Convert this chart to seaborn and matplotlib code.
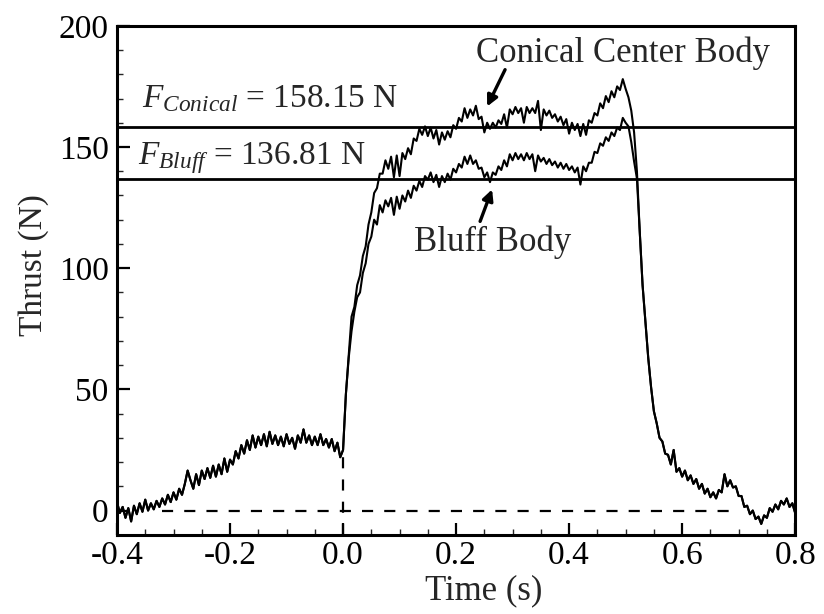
import numpy as np
import pandas as pd
import matplotlib
matplotlib.use("Agg")
import matplotlib.pyplot as plt
import seaborn as sns
from matplotlib.ticker import MultipleLocator, FormatStrFormatter

# ---------------- data ----------------
sample_step = 0.005

# shared pre-ignition trace, t = -0.400 ... 0.000 s
pre_thrust = [3.5, -1.0, 1.5, -3.0, 1.0, -4.5, 2.0, -1.5, 3.0, -0.5,
              4.5, 0.0, 3.0, 0.5, 4.0, 1.5, 5.0, 2.5, 6.5, 3.5,
              7.5, 4.5, 9.0, 6.5, 11.0, 16.5, 12.5, 9.0, 15.0, 10.5,
              16.5, 13.0, 17.5, 13.5, 18.5, 14.0, 19.0, 15.0, 21.5, 16.0,
              21.0, 19.0, 24.5, 21.5, 27.0, 23.5, 29.0, 25.0, 31.0, 26.0,
              30.5, 27.0, 31.5, 26.5, 32.5, 27.5, 31.0, 27.0, 30.5, 26.5,
              31.5, 27.5, 30.0, 25.5, 31.0, 28.0, 33.5, 28.0, 31.0, 27.0,
              30.5, 27.0, 31.5, 27.0, 29.5, 26.0, 29.5, 24.5, 28.0, 22.0,
              25.0]

# burn phase, t = 0.005 ... 0.550 s
conical_burn = [48, 64, 80, 84, 93, 97, 105, 109, 118, 123,
                131, 133, 139, 139, 144.5, 141, 146, 137.5, 146.5, 138,
                147.5, 145, 149.5, 147, 153.5, 152.5, 157.5, 155, 158.5, 154.5,
                158, 153.5, 157, 151, 156, 153, 156.5, 154, 159, 157.5,
                162, 160.5, 166, 162, 165.5, 163, 167, 161.5, 162.5, 156,
                160, 157.5, 160, 158, 161, 159.5, 163.5, 158, 165.5, 163.5,
                166.5, 164, 166, 160, 166.5, 164, 166, 164, 169, 157,
                165.5, 163, 165, 162, 163.5, 160.5, 162.5, 159, 161.5, 155.5,
                160, 157, 159.5, 154.5, 159.5, 155, 161, 160, 164, 163,
                168, 166, 171, 168.5, 173, 170.5, 175, 173.5, 178, 174,
                170.5, 165, 156, 140, 115, 93, 78, 63, 51, 41]

bluff_burn = [48, 63, 74, 82, 88, 90, 98, 102, 110, 113,
              120, 118, 126, 123, 128, 125.5, 129, 122, 129.5, 124.5,
              130, 127.5, 132, 129, 134, 132, 136, 133.5, 138, 136.5,
              139.5, 135.5, 138.5, 133.5, 138, 135.5, 139, 136.5, 141, 139.5,
              143, 141.5, 146, 143, 146.5, 143, 144.5, 141, 141.5, 137.5,
              139.5, 135.5, 139.5, 138.5, 142, 140.5, 144.5, 142, 147, 144.5,
              147.5, 145, 147, 144.5, 147.5, 145, 147, 140, 146.5, 144,
              145.5, 143, 145, 142.5, 144, 141.5, 143.5, 141, 143, 140.5,
              142, 139.5, 141.5, 134.5, 142, 140, 143.5, 143.5, 148, 147.5,
              151.5, 150.5, 154, 152.5, 156, 154.5, 158, 157, 162, 160,
              158.5, 152, 144, 137, 115, 93, 78, 63, 51, 41]

# shared tail-off trace, t = 0.555 ... 0.800 s
tail_thrust = [36, 30, 28.5, 23.5, 23, 19, 25, 16, 17.5, 14,
               16.5, 12.5, 14.5, 11, 13, 9, 11, 7, 9, 5.5,
               7.5, 5, 8.5, 7.5, 15, 10, 12.5, 9.5, 10, 6,
               6, 1.5, 2, -1.5, 0, -3.5, -2.5, -5.5, -2, -3,
               1, -0.5, 2.5, 0.5, 4, 2.5, 5, 1.5, 3, -1]

mean_conical = 158.15
mean_bluff = 136.81
ignition_time = 0.0
zero_ref_span = [-0.32, 0.69]

x_ticks = [-0.4, -0.2, 0.0, 0.2, 0.4, 0.6, 0.8]
y_ticks = [0, 50, 100, 150, 200]

# ---------------- build long table ----------------
t_pre = np.round(-0.4 + sample_step * np.arange(len(pre_thrust)), 3)
t_burn = np.round(sample_step * (1 + np.arange(len(conical_burn))), 3)
t_tail = np.round(t_burn[-1] + sample_step * (1 + np.arange(len(tail_thrust))), 3)

frames = []
for name, burn in [("Conical Center Body", conical_burn), ("Bluff Body", bluff_burn)]:
    t = np.concatenate([t_pre, t_burn, t_tail])
    y = np.concatenate([pre_thrust, burn, tail_thrust])
    frames.append(pd.DataFrame({"Time": t, "Thrust": y, "Body": name}))
df = pd.concat(frames, ignore_index=True)

# ---------------- style ----------------
sns.set_style("ticks")
plt.rcParams["font.family"] = ["Liberation Serif", "DejaVu Serif"]
plt.rcParams["mathtext.fontset"] = "custom"
plt.rcParams["mathtext.rm"] = "Liberation Serif"
plt.rcParams["mathtext.it"] = "Liberation Serif:italic"
plt.rcParams["axes.unicode_minus"] = False

fig = plt.figure(figsize=(8.24, 6.14), dpi=100)
ax = fig.add_axes([0.142, 0.129, 0.823, 0.829])

sns.lineplot(data=df, x="Time", y="Thrust", hue="Body",
             palette={"Conical Center Body": "black", "Bluff Body": "black"},
             estimator=None, sort=False, lw=1.5, legend=False, ax=ax)

ax.axhline(mean_conical, color="black", lw=2.0)
ax.axhline(mean_bluff, color="black", lw=2.0)
ax.plot(zero_ref_span, [0, 0], color="black", lw=1.6, ls=(0, (5, 5)))
ax.plot([ignition_time, ignition_time], [-10, 25], color="black", lw=1.6, ls=(0, (5, 5)))

ax.set_xlim(-0.4, 0.8)
ax.set_ylim(-10, 200)
ax.set_xticks(x_ticks)
ax.set_yticks(y_ticks)
ax.xaxis.set_major_formatter(FormatStrFormatter("%.1f"))
ax.yaxis.set_major_formatter(FormatStrFormatter("%d"))
ax.xaxis.set_minor_locator(MultipleLocator(0.05))
ax.yaxis.set_minor_locator(MultipleLocator(10))
ax.tick_params(which="major", direction="in", length=9, width=1.6,
               labelsize=24, pad=6, top=False, right=False, colors="black")
ax.tick_params(axis="x", which="major", pad=4)
ax.tick_params(which="minor", direction="in", length=4.5, width=1.0,
               top=False, right=False)
for s in ax.spines.values():
    s.set_linewidth(2.2)
    s.set_color("black")

ax.set_xlabel("Time (s)", fontsize=25)
ax.set_ylabel("Thrust (N)", fontsize=24)
ax.xaxis.set_label_coords(0.541, -0.078)
ax.yaxis.set_label_coords(-0.100, 0.53)

ax.text(-0.356, 166.3, r"$F_{Conical}$ = 158.15 N", fontsize=24, va="baseline", ha="left")
ax.text(-0.363, 142.8, r"$F_{Bluff}$ = 136.81 N", fontsize=24, va="baseline", ha="left")
ax.text(0.4956, 185.2, "Conical Center Body", fontsize=25, va="baseline", ha="center")
ax.text(0.2655, 107.0, "Bluff Body", fontsize=25, va="baseline", ha="center")

arrow_kw = dict(arrowstyle="-|>", color="black", lw=2.4, mutation_scale=16,
                shrinkA=0, shrinkB=0)
ax.annotate("", xy=(0.2549, 166.7), xytext=(0.2867, 181.9), arrowprops=arrow_kw)
ax.annotate("", xy=(0.2637, 132.5), xytext=(0.2425, 119.3), arrowprops=arrow_kw)

fig.savefig("out.png", dpi=100)
